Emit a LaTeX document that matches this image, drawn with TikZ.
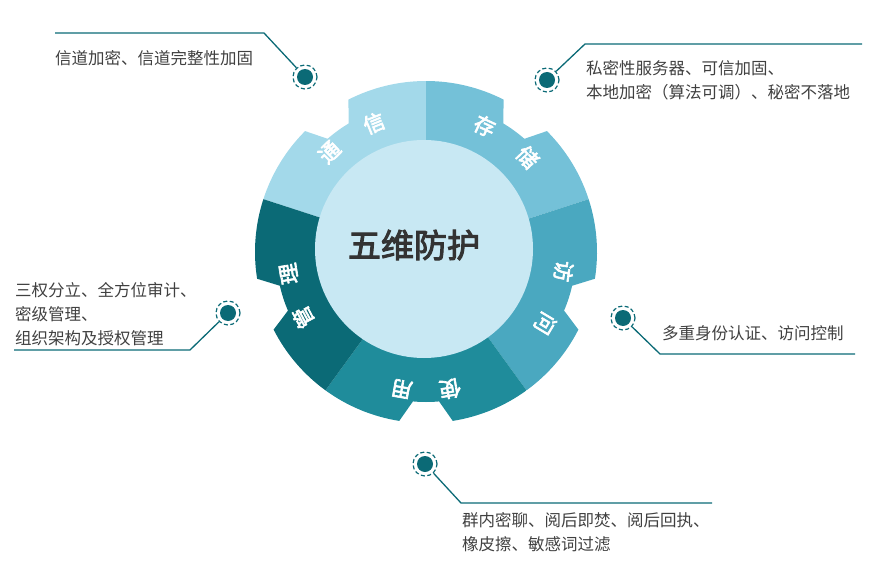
\documentclass[tikz,border=0pt]{standalone}
\usepackage{fontspec}
\setmainfont{Noto Sans CJK SC}[AutoFakeBold=3]
\begin{document}
\begin{tikzpicture}[x=1pt,y=1pt,
  lbl/.style={anchor=west,align=left,font=\fontsize{16.5}{24}\selectfont,text=black!75,inner sep=0pt},
  seg/.style={font=\fontsize{21}{21}\selectfont\bfseries,text=white,inner sep=0pt},
  mring/.style={draw=mk,dashed,dash pattern=on 4pt off 2.5pt,line width=1.2pt,circle,minimum size=24pt,inner sep=0pt},
]
\definecolor{c1}{HTML}{A3D9EA}\definecolor{c2}{HTML}{74C1D8}\definecolor{c3}{HTML}{4AA8C0}
\definecolor{c4}{HTML}{1F8C9B}\definecolor{c5}{HTML}{0B6A76}\definecolor{mk}{HTML}{0B6A76}
\definecolor{inn}{HTML}{C8E8F3}
\tikzset{cline/.style={draw=mk,line width=1.3pt}}
\useasboundingbox (0,0) rectangle (878,-583);
\coordinate (C) at (426,-252);
\begin{scope}
\clip ([shift={(426,-252)}]63:171)
  \foreach \k in {0,...,4}{
    arc[start angle={90+72*\k-27}, end angle={90+72*\k+27}, radius=171]
    -- ([shift={(426,-252)}]{90+72*\k+31}:150)
    arc[start angle={90+72*\k+31}, end angle={90+72*\k+41}, radius=150]
    -- ([shift={(426,-252)}]{90+72*\k+45}:171)
  } -- cycle;
\fill[c1] (C) -- ++(90:220) arc[start angle=90,end angle=162,radius=220] -- cycle;
\fill[c2] (C) -- ++(18:220) arc[start angle=18,end angle=90,radius=220] -- cycle;
\fill[c3] (C) -- ++(-54:220) arc[start angle=-54,end angle=18,radius=220] -- cycle;
\fill[c4] (C) -- ++(-126:220) arc[start angle=-126,end angle=-54,radius=220] -- cycle;
\fill[c5] (C) -- ++(162:220) arc[start angle=162,end angle=234,radius=220] -- cycle;
\end{scope}
\fill[inn] (424,-249) circle (109);
\node[font=\fontsize{33}{33}\selectfont\bfseries,text=black!80] (title) at (414,-245) {五维防护};
\foreach \ch/\a in {通/134,信/112,存/65,储/43,访/-8,问/-31,使/-80,用/-100,管/208,理/189}{
  \node[seg,rotate=\a-90] (s\a) at ([shift={(426,-252)}]\a:139) {\ch};
}
% callouts
\node[mring] (m1) at (305,-77) {}; \fill[mk] (m1) circle (8);
\coordinate (k1) at (264,-33); \coordinate (e1) at (55,-33);
\draw[cline] (m1) -- (k1) -- (e1);
\node[lbl] (t1) at (55,-58) {信道加密、信道完整性加固};
\node[mring] (m2) at (547,-80) {}; \fill[mk] (m2) circle (8);
\coordinate (k2) at (585,-44); \coordinate (e2) at (862,-44);
\draw[cline] (m2) -- (k2) -- (e2);
\node[lbl] (t2) at (586,-80) {私密性服务器、可信加固、\\本地加密（算法可调）、秘密不落地};
\node[mring] (m3) at (228,-313) {}; \fill[mk] (m3) circle (8);
\coordinate (k3) at (190,-350); \coordinate (e3) at (14,-350);
\draw[cline] (m3) -- (k3) -- (e3);
\node[lbl] (t3) at (15,-314) {三权分立、全方位审计、\\密级管理、\\组织架构及授权管理};
\node[mring] (m4) at (623,-318) {}; \fill[mk] (m4) circle (8);
\coordinate (k4) at (660,-354); \coordinate (e4) at (855,-354);
\draw[cline] (m4) -- (k4) -- (e4);
\node[lbl] (t4) at (662,-333) {多重身份认证、访问控制};
\node[mring] (m5) at (425,-464) {}; \fill[mk] (m5) circle (8);
\coordinate (k5) at (461,-503); \coordinate (e5) at (712,-503);
\draw[cline] (m5) -- (k5) -- (e5);
\node[lbl] (t5) at (462,-532) {群内密聊、阅后即焚、阅后回执、\\橡皮擦、敏感词过滤};
\end{tikzpicture}
\end{document}
